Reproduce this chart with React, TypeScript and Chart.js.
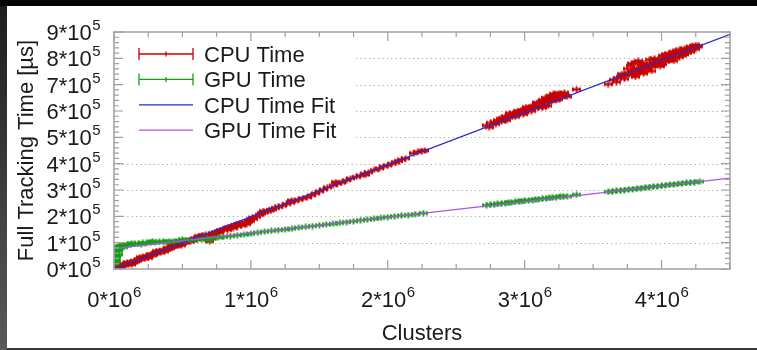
import React, { useEffect, useRef } from 'react';
import { Chart, registerables } from 'chart.js';

Chart.register(...registerables);

// Clusters in units of 10^6, times in units of 10^5 µs
const cpuClustersM = [
  0.01, 0.02, 0.03, 0.05, 0.06, 0.08, 0.09, 0.11, 0.12, 0.14,
  0.15, 0.17, 0.18, 0.2, 0.21, 0.23, 0.24, 0.26, 0.27, 0.29,
  0.3, 0.32, 0.33, 0.35, 0.36, 0.38, 0.39, 0.41, 0.42, 0.44,
  0.45, 0.47, 0.48, 0.5, 0.51, 0.53, 0.55, 0.57, 0.59, 0.61,
  0.63, 0.65, 0.67, 0.68, 0.7, 0.71, 0.72, 0.74, 0.76, 0.78,
  0.8, 0.82, 0.84, 0.86, 0.88, 0.9, 0.92, 0.94, 0.96, 0.98,
  1.0, 1.02, 1.04, 1.06, 1.08, 1.1, 1.12, 1.14, 1.16, 1.18,
  1.2, 1.23, 1.26, 1.29, 1.32, 1.35, 1.38, 1.41, 1.44, 1.47,
  1.5, 1.53, 1.56, 1.6, 1.63, 1.66, 1.7, 1.73, 1.77, 1.8,
  1.83, 1.86, 1.9, 1.94, 1.97, 2.0, 2.03, 2.06, 2.1, 2.13,
  2.19, 2.22, 2.25, 2.27,
  0.07, 0.13, 0.19, 0.25, 0.31, 0.37, 0.43, 0.49, 0.56, 0.62,
  0.9, 1.0, 1.3, 1.62, 1.84, 2.08,
  0.04, 0.1, 0.16, 0.22, 0.28, 0.34, 0.4, 0.46, 0.52, 0.58,
  0.64, 0.69, 0.73, 0.77, 0.83, 0.87, 0.93, 0.97, 1.01, 1.09,
  2.72, 2.75, 2.78, 2.8, 2.82, 2.84, 2.86, 2.88, 2.9, 2.92,
  2.94, 2.96, 2.98, 3.0, 3.0, 3.02, 3.04, 3.06, 3.08, 3.1,
  3.1, 3.12, 3.14, 3.15, 3.16, 3.18, 3.2, 3.2, 3.22, 3.24,
  3.25, 3.26, 3.28, 3.3, 3.38,
  2.85, 2.91, 2.97, 3.03, 3.07, 3.11, 3.13, 3.17, 3.19, 3.21,
  3.23, 3.27,
  2.74, 2.79, 2.83, 2.87, 2.89, 2.93, 2.95, 2.99, 3.01, 3.05,
  3.09, 3.13, 3.15, 3.17, 3.19, 3.21, 3.23, 3.25, 3.29, 3.31,
  3.61, 3.65, 3.68, 3.7, 3.72, 3.74, 3.76, 3.78, 3.78, 3.8,
  3.8, 3.82, 3.82, 3.84, 3.85, 3.86, 3.88, 3.9, 3.9, 3.92,
  3.94, 3.95, 3.96, 3.98, 4.0, 4.0, 4.02, 4.04, 4.05, 4.06,
  4.08, 4.1, 4.1, 4.12, 4.14, 4.16, 4.18, 4.2, 4.22, 4.24,
  4.26, 4.27,
  3.75, 3.79, 3.83, 3.87, 3.89, 3.93, 3.97, 4.01, 4.03, 4.07,
  4.11, 4.15, 4.19, 4.23,
  3.67, 3.71, 3.73, 3.77, 3.81, 3.83, 3.85, 3.87, 3.91, 3.93,
  3.95, 3.99, 4.01, 4.03, 4.05, 4.09, 4.09, 4.13, 4.13, 4.17,
  4.17, 4.21, 4.21, 4.25, 4.25,
];
const cpuTimeE5 = [
  0.04, 0.01, 0.08, 0.09, 0.14, 0.13, 0.19, 0.2, 0.26, 0.25,
  0.31, 0.32, 0.37, 0.38, 0.44, 0.44, 0.5, 0.5, 0.56, 0.55,
  0.61, 0.62, 0.68, 0.67, 0.73, 0.74, 0.8, 0.79, 0.85, 0.86,
  0.91, 0.92, 0.97, 0.98, 1.03, 1.04, 1.1, 1.12, 1.16, 1.2,
  1.22, 1.28, 1.3, 1.12, 1.05, 1.16, 1.36, 1.38, 1.42, 1.47,
  1.5, 1.55, 1.58, 1.62, 1.66, 1.7, 1.72, 1.74, 1.76, 1.8,
  1.82, 1.9, 1.98, 2.06, 2.12, 2.16, 2.2, 2.24, 2.27, 2.32,
  2.36, 2.4, 2.47, 2.52, 2.58, 2.63, 2.68, 2.72, 2.8, 2.87,
  2.95, 3.02, 3.1, 3.18, 3.25, 3.28, 3.37, 3.44, 3.5, 3.55,
  3.62, 3.67, 3.76, 3.82, 3.9, 3.93, 4.0, 4.05, 4.15, 4.2,
  4.4, 4.45, 4.48, 4.5,
  0.2, 0.17, 0.45, 0.42, 0.68, 0.66, 0.92, 0.9, 1.05, 1.25,
  1.62, 1.88, 2.6, 3.3, 3.58, 4.1,
  0.12, 0.24, 0.28, 0.4, 0.52, 0.64, 0.76, 0.88, 1.0, 1.08,
  1.18, 1.2, 1.28, 1.38, 1.48, 1.55, 1.65, 1.7, 1.95, 2.2,
  5.45, 5.55, 5.58, 5.65, 5.7, 5.72, 5.8, 5.78, 5.85, 5.9,
  5.92, 5.98, 6.02, 6.05, 5.95, 6.1, 6.12, 6.18, 6.2, 6.28,
  6.15, 6.3, 6.38, 6.22, 6.45, 6.5, 6.55, 6.38, 6.55, 6.6,
  6.45, 6.62, 6.58, 6.6, 6.82,
  5.68, 5.8, 5.9, 6.02, 6.1, 6.2, 6.42, 6.35, 6.58, 6.45,
  6.62, 6.52,
  5.38, 5.5, 5.6, 5.65, 5.92, 5.78, 6.0, 5.88, 6.15, 6.0,
  6.32, 6.12, 6.5, 6.2, 6.4, 6.65, 6.42, 6.68, 6.7, 6.55,
  7.02, 7.18, 7.25, 7.3, 7.38, 7.35, 7.45, 7.5, 7.8, 7.55,
  7.4, 7.62, 7.85, 7.58, 7.5, 7.68, 7.7, 7.75, 7.6, 7.78,
  7.85, 7.72, 7.88, 7.92, 7.95, 7.82, 8.0, 8.05, 7.92, 8.08,
  8.12, 8.15, 8.02, 8.2, 8.22, 8.25, 8.3, 8.35, 8.38, 8.4,
  8.45, 8.47,
  7.6, 7.38, 7.48, 7.82, 7.55, 7.68, 7.75, 8.1, 7.88, 7.98,
  8.28, 8.12, 8.22, 8.45,
  7.1, 7.4, 7.22, 7.72, 7.3, 7.9, 7.75, 7.42, 7.95, 7.52,
  8.0, 7.7, 7.78, 8.15, 8.18, 7.9, 8.25, 8.05, 8.32, 8.15,
  8.38, 8.25, 8.45, 8.35, 8.5,
];

const gpuClustersM = [
  0.005, 0.008, 0.01, 0.012, 0.015, 0.018, 0.02, 0.025, 0.03, 0.035,
  0.04, 0.05, 0.06, 0.08, 0.1, 0.12, 0.15, 0.18, 0.21, 0.24,
  0.27, 0.3, 0.33, 0.36, 0.4, 0.44, 0.48, 0.52, 0.56, 0.6,
  0.64, 0.68, 0.72, 0.76, 0.8, 0.85, 0.9, 0.95, 1.0, 1.05,
  1.1, 1.15, 1.2, 1.25, 1.3, 1.35, 1.4, 1.45, 1.5, 1.55,
  1.6, 1.65, 1.7, 1.75, 1.8, 1.85, 1.9, 1.95, 2.0, 2.05,
  2.1, 2.15, 2.2, 2.26,
  0.02, 0.01, 0.03, 0.07, 0.13, 0.2, 0.28, 0.38, 0.5, 0.7,
  2.72, 2.75, 2.78, 2.8, 2.83, 2.86, 2.88, 2.9, 2.93, 2.96,
  2.98, 3.0, 3.03, 3.06, 3.08, 3.1, 3.13, 3.16, 3.18, 3.2,
  3.23, 3.26, 3.28, 3.31, 3.38,
  3.61, 3.64, 3.67, 3.7, 3.73, 3.76, 3.79, 3.82, 3.85, 3.88,
  3.91, 3.94, 3.97, 4.0, 4.03, 4.06, 4.09, 4.12, 4.15, 4.18,
  4.21, 4.24, 4.28,
];
const gpuTimeE5 = [
  0.2, 0.35, 0.5, 0.6, 0.7, 0.3, 0.76, 0.8, 0.55, 0.82,
  0.85, 0.87, 0.88, 0.9, 0.92, 0.93, 0.95, 0.97, 0.99, 0.99,
  1.01, 1.02, 1.03, 1.04, 1.05, 1.06, 1.08, 1.09, 1.1, 1.12,
  1.13, 1.15, 1.17, 1.2, 1.22, 1.25, 1.28, 1.31, 1.34, 1.38,
  1.42, 1.45, 1.48, 1.5, 1.53, 1.57, 1.6, 1.63, 1.66, 1.69,
  1.72, 1.75, 1.78, 1.81, 1.85, 1.88, 1.91, 1.94, 1.97, 2.0,
  2.03, 2.05, 2.08, 2.12,
  0.45, 0.25, 0.7, 0.83, 0.97, 0.94, 1.05, 1.02, 1.12, 1.12,
  2.42, 2.44, 2.45, 2.47, 2.49, 2.5, 2.52, 2.53, 2.55, 2.57,
  2.58, 2.59, 2.61, 2.62, 2.64, 2.65, 2.67, 2.68, 2.7, 2.71,
  2.73, 2.74, 2.76, 2.76, 2.82,
  2.93, 2.95, 2.97, 2.98, 3.0, 3.02, 3.03, 3.05, 3.07, 3.09,
  3.11, 3.13, 3.14, 3.16, 3.18, 3.2, 3.21, 3.23, 3.25, 3.27,
  3.28, 3.3, 3.32,
];

const fitClusters = [0, 4.5e6];
const cpuFitTime = [0, 8.91e5];
const gpuFitTime = [0.77e5, 3.45e5];

const xTickValues = [0, 1, 2, 3, 4]; // × 10^6
const yTickValues = [0, 1, 2, 3, 4, 5, 6, 7, 8, 9]; // × 10^5
const legendLabels = ['CPU Time', 'GPU Time', 'CPU Time Fit', 'GPU Time Fit'];

const RED = '#c80000';
const GREEN = '#12a012';
const BLUE = '#2a2ad0';
const PURPLE = '#b050e8';
const FRAME = '#a0a0a0';
const TEXT = '#1a1a1a';
const FONT = '"Liberation Sans", Arial, sans-serif';

function makeMarker(color: string) {
  const c = document.createElement('canvas');
  c.width = 9;
  c.height = 7;
  const g = c.getContext('2d')!;
  g.strokeStyle = color;
  g.lineWidth = 1.9;
  g.beginPath();
  g.moveTo(0.5, 3.5); g.lineTo(8.5, 3.5);
  g.moveTo(4.5, 0.5); g.lineTo(4.5, 6.5);
  g.moveTo(1, 1.5); g.lineTo(1, 5.5);
  g.moveTo(8, 1.5); g.lineTo(8, 5.5);
  g.stroke();
  return c;
}

const decorPlugin = {
  id: 'decor',
  beforeDatasetsDraw(chart: any) {
    const { ctx, chartArea: a, scales } = chart;
    const y = scales.y;
    ctx.save();
    ctx.strokeStyle = '#a8a8a8';
    ctx.lineWidth = 1;
    ctx.setLineDash([1.2, 3.2]);
    for (const k of yTickValues) {
      if (k === 0 || k === 9) continue;
      const py = Math.round(y.getPixelForValue(k * 1e5)) + 0.5;
      ctx.beginPath();
      ctx.moveTo(a.left, py);
      ctx.lineTo(a.right, py);
      ctx.stroke();
    }
    ctx.setLineDash([]);
    // opaque legend box
    ctx.fillStyle = '#ffffff';
    ctx.fillRect(a.left + 1, a.top + 1, 238, 116);
    ctx.restore();
  },
  afterDatasetsDraw(chart: any) {
    const { ctx, chartArea: a, scales } = chart;
    const xs = scales.x;
    const ys = scales.y;
    ctx.save();
    // frame
    ctx.strokeStyle = FRAME;
    ctx.lineWidth = 1.5;
    ctx.strokeRect(a.left, a.top, a.right - a.left, a.bottom - a.top);
    // x ticks (bottom + top)
    ctx.lineWidth = 1.2;
    for (let v = 0; v <= 4.5e6 + 1; v += 2.5e5) {
      const px = xs.getPixelForValue(v);
      const major = Math.abs(v / 1e6 - Math.round(v / 1e6)) < 1e-9;
      const len = major ? 9 : 5;
      ctx.beginPath();
      ctx.moveTo(px, a.bottom); ctx.lineTo(px, a.bottom - len);
      ctx.moveTo(px, a.top); ctx.lineTo(px, a.top + len);
      ctx.stroke();
    }
    // y ticks (left + right)
    for (let i = 0; i <= 45; i++) {
      const v = i * 2e4;
      const py = ys.getPixelForValue(v);
      const major = i % 5 === 0;
      const len = major ? 9 : 5;
      ctx.beginPath();
      ctx.moveTo(a.left, py); ctx.lineTo(a.left + len, py);
      ctx.moveTo(a.right, py); ctx.lineTo(a.right - len, py);
      ctx.stroke();
    }
    // tick labels
    ctx.fillStyle = TEXT;
    ctx.textAlign = 'left';
    ctx.textBaseline = 'alphabetic';
    const mainFont = `22px ${FONT}`;
    const supFont = `15px ${FONT}`;
    for (const k of yTickValues) {
      const py = ys.getPixelForValue(k * 1e5);
      const main = `${k}*10`;
      ctx.font = supFont;
      const sw = ctx.measureText('5').width;
      ctx.font = mainFont;
      const mw = ctx.measureText(main).width;
      const x0 = a.left - 14 - sw - mw;
      ctx.fillText(main, x0, py + 8);
      ctx.font = supFont;
      ctx.fillText('5', x0 + mw + 0.5, py - 2);
    }
    for (const k of xTickValues) {
      const px = xs.getPixelForValue(k * 1e6);
      const main = `${k}*10`;
      ctx.font = supFont;
      const sw = ctx.measureText('6').width;
      ctx.font = mainFont;
      const mw = ctx.measureText(main).width;
      const x0 = px - (mw + sw) / 2;
      ctx.fillText(main, x0, a.bottom + 38);
      ctx.font = supFont;
      ctx.fillText('6', x0 + mw + 0.5, a.bottom + 28);
    }
    // axis titles
    ctx.font = `22px ${FONT}`;
    ctx.textAlign = 'center';
    ctx.fillText('Clusters', (a.left + a.right) / 2, a.bottom + 71);
    ctx.save();
    ctx.translate(33, (a.top + a.bottom) / 2);
    ctx.rotate(-Math.PI / 2);
    ctx.fillText('Full Tracking Time [µs]', 0, 0);
    ctx.restore();
    // legend
    const colors = [RED, GREEN, BLUE, PURPLE];
    const sx0 = a.left + 25;
    const sx1 = a.left + 79;
    ctx.font = `22px ${FONT}`;
    ctx.textAlign = 'left';
    legendLabels.forEach((label, i) => {
      const ry = a.top + 22 + i * 25.4;
      ctx.strokeStyle = colors[i];
      ctx.lineWidth = 1.3;
      ctx.beginPath();
      ctx.moveTo(sx0, ry); ctx.lineTo(sx1, ry);
      if (i < 2) {
        ctx.moveTo(sx0, ry - 6); ctx.lineTo(sx0, ry + 6);
        ctx.moveTo(sx1, ry - 6); ctx.lineTo(sx1, ry + 6);
        const cx = (sx0 + sx1) / 2;
        ctx.moveTo(cx, ry - 2.5); ctx.lineTo(cx, ry + 2.5);
        ctx.moveTo(cx - 2.5, ry); ctx.lineTo(cx + 2.5, ry);
      }
      ctx.stroke();
      ctx.fillStyle = TEXT;
      ctx.fillText(label, a.left + 90, ry + 8);
    });
    ctx.restore();
  },
};

export default function App() {
  const ref = useRef<HTMLCanvasElement | null>(null);
  useEffect(() => {
    if (!ref.current) return;
    const cpuMarker = makeMarker(RED);
    const gpuMarker = makeMarker(GREEN);
    const cpuData = cpuClustersM.map((c, i) => ({ x: c * 1e6, y: cpuTimeE5[i] * 1e5 }));
    const gpuData = gpuClustersM.map((c, i) => ({ x: c * 1e6, y: gpuTimeE5[i] * 1e5 }));
    const cpuFit = fitClusters.map((c, i) => ({ x: c, y: cpuFitTime[i] }));
    const gpuFit = fitClusters.map((c, i) => ({ x: c, y: gpuFitTime[i] }));
    const chart = new Chart(ref.current, {
      type: 'scatter',
      data: {
        datasets: [
          { label: 'GPU Time Fit', data: gpuFit, showLine: true, borderColor: PURPLE, borderWidth: 1.3, pointRadius: 0, order: 0 } as any,
          { label: 'CPU Time Fit', data: cpuFit, showLine: true, borderColor: BLUE, borderWidth: 1.3, pointRadius: 0, order: 1 } as any,
          { label: 'GPU Time', data: gpuData, pointStyle: gpuMarker, pointRadius: 3, order: 2 } as any,
          { label: 'CPU Time', data: cpuData, pointStyle: cpuMarker, pointRadius: 3, order: 3 } as any,
        ],
      },
      options: {
        animation: false,
        responsive: false,
        maintainAspectRatio: false,
        devicePixelRatio: 1,
        layout: { padding: { left: 114, right: 27, top: 32, bottom: 81 } },
        plugins: { legend: { display: false }, tooltip: { enabled: false }, title: { display: false } },
        events: [],
        scales: {
          x: { type: 'linear', min: 0, max: 4.5e6, display: false },
          y: { type: 'linear', min: 0, max: 9e5, display: false },
        },
      },
      plugins: [decorPlugin],
    });
    return () => chart.destroy();
  }, []);

  return (
    <div style={{ position: 'absolute', left: 0, top: 0, width: 757, height: 350, background: '#050505', overflow: 'hidden' }}>
      <div style={{ position: 'absolute', left: 0, top: 6, width: 7, height: 344, background: 'linear-gradient(#1e1e1e, #5c5855)' }} />
      <div style={{ position: 'absolute', left: 7, top: 6, width: 750, height: 342, background: '#ffffff' }} />
      <div style={{ position: 'absolute', left: 7, top: 348, width: 750, height: 2, background: '#3a3a3a' }} />
      <canvas ref={ref} width={757} height={350} style={{ position: 'absolute', left: 0, top: 0, width: 757, height: 350 }} />
    </div>
  );
}
